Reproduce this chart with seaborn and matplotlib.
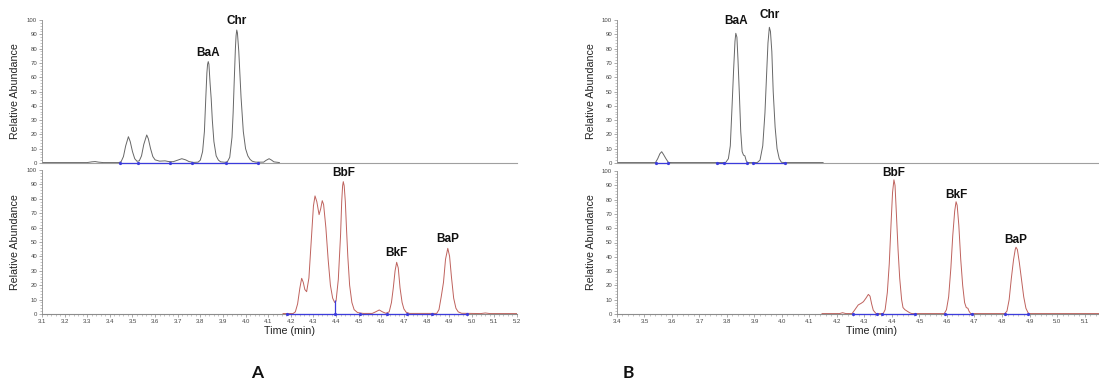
import matplotlib
matplotlib.use("Agg")
import matplotlib.pyplot as plt
import seaborn as sns
import pandas as pd
from matplotlib.ticker import MultipleLocator, FixedLocator, FormatStrFormatter

# ---------------- data ----------------
# Panel A, upper channel (BaA / Chr)
a_top_time = [3.10, 3.30, 3.32, 3.335, 3.35, 3.37, 3.44, 3.45, 3.46, 3.47, 3.482, 3.49, 3.50, 3.51,
              3.52, 3.53, 3.54, 3.55, 3.563, 3.57, 3.58, 3.59, 3.60, 3.62, 3.644, 3.66, 3.68, 3.70,
              3.718, 3.735, 3.75, 3.77, 3.79, 3.80, 3.81, 3.818, 3.824, 3.829, 3.832, 3.835, 3.838,
              3.843, 3.848, 3.853, 3.86, 3.87, 3.88, 3.89, 3.91, 3.92, 3.93, 3.94, 3.945, 3.95, 3.955,
              3.958, 3.961, 3.964, 3.97, 3.975, 3.98, 3.99, 4.00, 4.01, 4.02, 4.03, 4.045, 4.08, 4.09,
              4.104, 4.115, 4.125, 4.15]
a_top_abund = [0.3, 0.3, 0.8, 1.0, 0.6, 0.3, 0.3, 1.0, 4.5, 12, 18.4, 15, 8, 3,
               1.2, 1.5, 5, 13, 19.6, 17, 10, 4.5, 2.2, 1.3, 1.5, 1.0, 0.9, 2.0,
               3.0, 2.2, 1.0, 0.4, 0.6, 2, 8, 22, 45, 63, 69, 70.9, 69,
               56, 45, 30, 15, 5, 2, 0.8, 0.5, 1.0, 4, 18, 35, 58, 80,
               89, 93, 91, 78, 62, 46, 22, 10, 5, 2.5, 1.2, 0.6, 0.6, 1.8,
               3.0, 2.0, 0.8, 0.3]
# Panel A, lower channel (BbF / BkF / BaP)
a_bot_time = [4.165, 4.21, 4.22, 4.23, 4.24, 4.248, 4.255, 4.262, 4.27, 4.28, 4.29, 4.30, 4.307,
              4.315, 4.325, 4.332, 4.339, 4.345, 4.355, 4.365, 4.375, 4.385, 4.394, 4.40, 4.41,
              4.42, 4.425, 4.429, 4.432, 4.436, 4.441, 4.446, 4.452, 4.46, 4.47, 4.48, 4.495, 4.52,
              4.56, 4.575, 4.591, 4.605, 4.62, 4.635, 4.645, 4.653, 4.661, 4.668, 4.675, 4.683,
              4.692, 4.70, 4.71, 4.725, 4.845, 4.855, 4.865, 4.875, 4.884, 4.894, 4.902, 4.91,
              4.92, 4.93, 4.94, 4.955, 5.04, 5.06, 5.08, 5.20]
a_bot_abund = [0.3, 0.3, 1.5, 7, 18, 24.8, 22, 17, 15.5, 25, 50, 75, 82,
               78, 69, 73, 78.7, 76, 60, 38, 20, 11, 8, 9, 24,
               55, 78, 89, 91.9, 89, 78, 60, 40, 20, 8, 3, 1, 0.4,
               0.4, 1.5, 2.8, 1.5, 0.5, 1.5, 8, 18, 30, 35.9, 32, 18,
               8, 3.5, 1.2, 0.4, 0.4, 3, 12, 22, 38, 45.6, 40, 26,
               11, 4, 1.5, 0.5, 0.3, 0.7, 0.3, 0.3]
# Panel B, upper channel
b_top_time = [3.40, 3.54, 3.548, 3.556, 3.5625, 3.569, 3.578, 3.587, 3.60, 3.795, 3.805, 3.812,
              3.818, 3.824, 3.829, 3.832, 3.836, 3.84, 3.845, 3.85, 3.855, 3.86, 3.865, 3.87,
              3.875, 3.91, 3.92, 3.93, 3.938, 3.944, 3.949, 3.954, 3.958, 3.963, 3.968, 3.975,
              3.982, 3.99, 3.998, 4.01, 4.15]
b_top_abund = [0.3, 0.3, 3, 6.5, 7.9, 6, 3, 0.4, 0.3, 0.3, 3, 12,
               38, 65, 85, 90.7, 88, 72, 48, 22, 8, 5.5, 5, 1.5,
               0.3, 0.3, 2, 12, 35, 62, 84, 94.9, 92, 78, 50, 25,
               10, 3, 0.5, 0.3, 0.3]
# Panel B, lower channel
b_bot_time = [4.145, 4.21, 4.22, 4.232, 4.255, 4.265, 4.277, 4.288, 4.296, 4.305, 4.314, 4.32,
              4.326, 4.332, 4.342, 4.368, 4.375, 4.383, 4.39, 4.397, 4.402, 4.407, 4.411, 4.416,
              4.422, 4.428, 4.435, 4.44, 4.447, 4.455, 4.465, 4.472, 4.59, 4.598, 4.606, 4.614,
              4.621, 4.628, 4.633, 4.637, 4.643, 4.65, 4.657, 4.664, 4.67, 4.676, 4.68, 4.686,
              4.81, 4.818, 4.826, 4.834, 4.842, 4.848, 4.851, 4.856, 4.863, 4.871, 4.879, 4.887,
              4.895, 4.90, 5.20]
b_bot_abund = [0.3, 0.3, 0.9, 0.3, 0.3, 3, 6.3, 7.5, 8.6, 11, 13.7, 12.5,
               7, 2.6, 0.3, 0.3, 3, 15, 35, 65, 85, 93.8, 90, 70,
               45, 25, 10, 4.5, 3, 2, 0.8, 0.3, 0.3, 3, 12, 32,
               55, 72, 78.5, 76, 62, 38, 20, 8, 4.5, 4, 2, 0.3,
               0.3, 2, 10, 25, 38, 45, 46.7, 45, 36, 24, 12, 4,
               0.8, 0.3, 0.3]

# peak labels (name, apex time, apex height)
a_top_peaks = ["BaA", "Chr"];        a_top_peak_t = [3.835, 3.961];        a_top_peak_h = [70.9, 93]
a_bot_peaks = ["BbF", "BkF", "BaP"]; a_bot_peak_t = [4.432, 4.668, 4.894]; a_bot_peak_h = [91.9, 35.9, 45.6]
b_top_peaks = ["BaA", "Chr"];        b_top_peak_t = [3.832, 3.954];        b_top_peak_h = [90.7, 94.9]
b_bot_peaks = ["BbF", "BkF", "BaP"]; b_bot_peak_t = [4.407, 4.633, 4.851]; b_bot_peak_h = [93.8, 78.5, 46.7]

# integration baselines (peak boundaries, min)
a_top_bounds = [[3.445, 3.523, 3.666, 3.762, 3.912, 4.055]]
a_bot_bounds = [[4.182, 4.395, 4.506, 4.624, 4.712, 4.823, 4.978]]
a_bot_drop_t = [4.395]; a_bot_drop_h = [9.7]
b_top_bounds = [[3.542, 3.587], [3.762, 3.79, 3.872], [3.896, 4.011]]
b_bot_bounds = [[4.259, 4.344], [4.363, 4.484], [4.593, 4.69], [4.811, 4.896]]

# tick labels
a_xticks = [3.1, 3.2, 3.3, 3.4, 3.5, 3.6, 3.7, 3.8, 3.9, 4.0, 4.1, 4.2, 4.3, 4.4, 4.5, 4.6, 4.7,
            4.8, 4.9, 5.0, 5.1, 5.2]
b_xticks = [3.4, 3.5, 3.6, 3.7, 3.8, 3.9, 4.0, 4.1, 4.2, 4.3, 4.4, 4.5, 4.6, 4.7, 4.8, 4.9, 5.0, 5.1]

# ---------------- figure ----------------
sns.set_theme(style="white")
plt.rcParams["font.family"] = ["Liberation Sans", "DejaVu Sans"]

W, H = 1099, 381
fig = plt.figure(figsize=(W / 100, H / 100), dpi=100)


def px_axes(x0, x1, ytop, ybot):
    return fig.add_axes([x0 / W, 1 - ybot / H, (x1 - x0) / W, (ybot - ytop) / H])


GRAY = "#676767"
RED = "#bf625d"
BLUE = "#3c3cdc"


def style(ax, xlim, xticks, width_px):
    ax.set_xlim(*xlim)
    ax.set_ylim(0, 100)
    for s in ["top", "right"]:
        ax.spines[s].set_visible(False)
    ax.spines["left"].set_color("#8c8c8c")
    ax.spines["left"].set_linewidth(0.6)
    ax.spines["bottom"].set_color("#a0a0a0" if xticks is None else "#8c8c8c")
    ax.spines["bottom"].set_linewidth(0.8)
    ax.yaxis.set_major_locator(MultipleLocator(10))
    ax.yaxis.set_minor_locator(MultipleLocator(2))
    ax.tick_params(axis="y", which="major", left=True, length=2.5, width=0.5, color="#888888",
                   labelsize=4.3, labelcolor="#444444", pad=1)
    ax.tick_params(axis="y", which="minor", left=True, length=1.4, width=0.4, color="#999999")
    if xticks is not None:
        ax.xaxis.set_major_locator(FixedLocator(xticks))
        ax.xaxis.set_minor_locator(MultipleLocator(0.02))
        ax.xaxis.set_major_formatter(FormatStrFormatter("%.1f"))
        ax.tick_params(axis="x", which="major", bottom=True, length=2.5, width=0.5, color="#888888",
                       labelsize=4.3, labelcolor="#444444", pad=1)
        ax.tick_params(axis="x", which="minor", bottom=True, length=1.4, width=0.4, color="#999999")
    else:
        ax.tick_params(axis="x", which="both", bottom=False, labelbottom=False)
    ax.set_ylabel("Relative Abundance", fontsize=7.7, color="#222222")
    ax.yaxis.set_label_coords(-21.5 / width_px, 0.5)
    ax.set_xlabel("")


def trace(ax, t, y, color):
    df = pd.DataFrame({"t": t, "y": y})
    sns.lineplot(data=df, x="t", y="y", ax=ax, color=color, linewidth=0.7,
                 estimator=None, sort=False)
    ax.set_xlabel("")


def baselines(ax, groups):
    for g in groups:
        ax.hlines(0, g[0], g[-1], color=BLUE, linewidth=0.9, clip_on=False, zorder=4)
        ax.plot(g, [0] * len(g), "o", color=BLUE, markersize=1.3, clip_on=False, zorder=4)


def labels(ax, names, ts, hs, off_px):
    for n, t, h in zip(names, ts, hs):
        ax.annotate(n, (t, h), xytext=(0, off_px * 0.72), textcoords="offset points",
                    ha="center", va="center", fontsize=8.5, fontweight="bold",
                    color="#111111", annotation_clip=False)


# Panel A
axA1 = px_axes(42, 517, 20, 163)
axA2 = px_axes(42, 517, 170, 314)
trace(axA1, a_top_time, a_top_abund, GRAY)
trace(axA2, a_bot_time, a_bot_abund, RED)
style(axA1, (3.1, 5.2), None, 475)
style(axA2, (3.1, 5.2), a_xticks, 475)
baselines(axA1, a_top_bounds)
baselines(axA2, a_bot_bounds)
axA2.vlines(a_bot_drop_t, 0, a_bot_drop_h, color=BLUE, linewidth=0.9, zorder=4)
labels(axA1, a_top_peaks, a_top_peak_t, a_top_peak_h, 9)
labels(axA2, a_bot_peaks, a_bot_peak_t, a_bot_peak_h, 9)
axA2.set_xlabel("Time (min)", fontsize=7.7, color="#222222")
axA2.xaxis.set_label_coords((289 - 42) / 475, -12 / 144)

# Panel B
axB1 = px_axes(617, 1112, 20, 163)
axB2 = px_axes(617, 1112, 171, 314)
trace(axB1, b_top_time, b_top_abund, GRAY)
trace(axB2, b_bot_time, b_bot_abund, RED)
style(axB1, (3.4, 5.2), None, 495)
style(axB2, (3.4, 5.2), b_xticks, 495)
baselines(axB1, b_top_bounds)
baselines(axB2, b_bot_bounds)
labels(axB1, b_top_peaks, b_top_peak_t, b_top_peak_h, 12.5)
labels(axB2, b_bot_peaks, b_bot_peak_t, b_bot_peak_h, 7)
axB2.set_xlabel("Time (min)", fontsize=7.7, color="#222222")
axB2.xaxis.set_label_coords((871 - 617) / 495, -12 / 143)

# panel letters
fig.text(257 / W, 1 - 373 / H, "A", ha="center", va="center", fontsize=12.5,
         fontweight="bold", family=["Lato", "DejaVu Sans"], color="#111111")
fig.text(628 / W, 1 - 373 / H, "B", ha="center", va="center", fontsize=12.5,
         fontweight="bold", family=["Lato", "DejaVu Sans"], color="#111111")

fig.savefig("out.png", dpi=100, facecolor="white")
